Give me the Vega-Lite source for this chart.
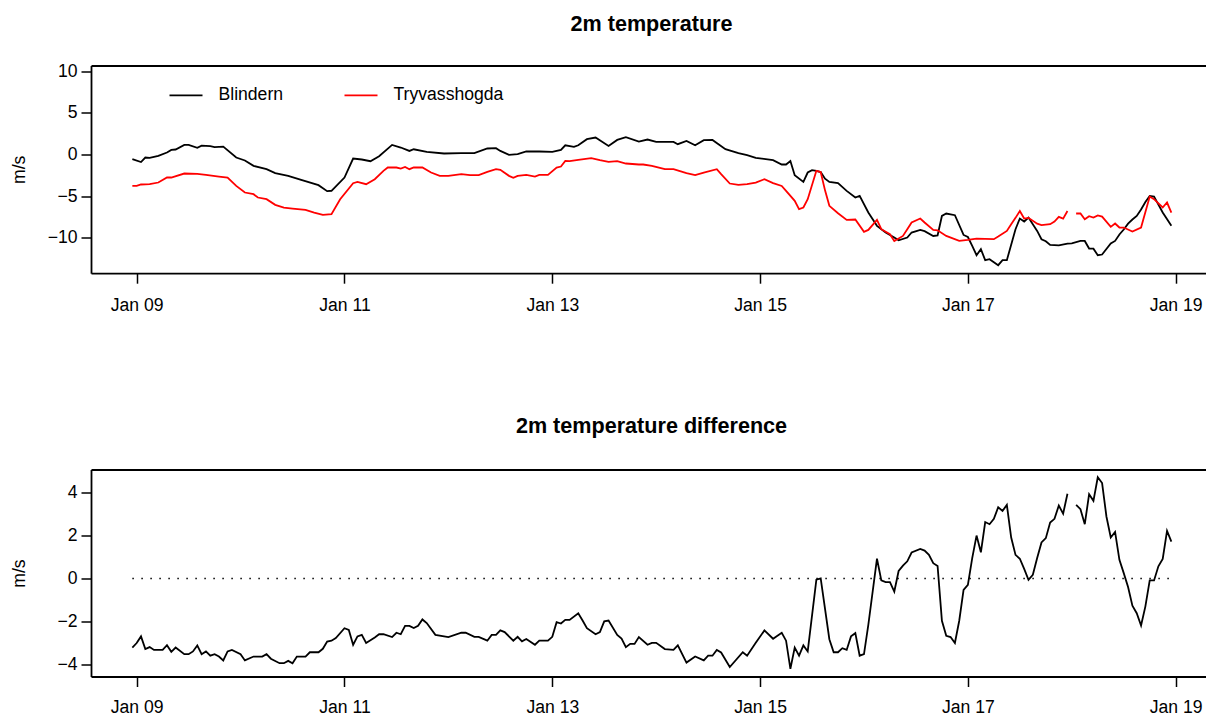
{
"$schema":"https://vega.github.io/schema/vega-lite/v6.json",
"background":"white",
"padding":{"left":10,"top":13.5,"right":0,"bottom":0},
"autosize":{"type":"pad"},
"spacing":196,
"bounds":"flush",
"config":{
 "font":"Liberation Sans",
 "view":{"stroke":null},
 "axis":{"domainColor":"black","domainWidth":1.8,"tickColor":"black","tickWidth":1.5,"tickSize":10,"labelColor":"black","labelFont":"Liberation Sans","labelFontSize":17.6,"titleFont":"Liberation Sans","titleFontSize":17.6,"titleFontWeight":"normal","titleColor":"black","grid":false}
},
"datasets":{
"bl":[
{"t":"2024-01-08T23:00","v":-0.56},{"t":"2024-01-09T01:00","v":-0.9},{"t":"2024-01-09T02:00","v":-0.36},{"t":"2024-01-09T03:00","v":-0.4},{"t":"2024-01-09T05:00","v":-0.17},{"t":"2024-01-09T07:00","v":0.24},{"t":"2024-01-09T08:00","v":0.55},{"t":"2024-01-09T09:00","v":0.6},{"t":"2024-01-09T11:00","v":1.15},{"t":"2024-01-09T12:00","v":1.15},{"t":"2024-01-09T14:00","v":0.8},{"t":"2024-01-09T15:00","v":1.07},{"t":"2024-01-09T17:00","v":1.0},{"t":"2024-01-09T18:00","v":0.88},{"t":"2024-01-09T20:00","v":0.95},{"t":"2024-01-09T23:00","v":-0.36},
{"t":"2024-01-10T01:00","v":-0.72},{"t":"2024-01-10T03:00","v":-1.36},{"t":"2024-01-10T06:00","v":-1.76},{"t":"2024-01-10T08:00","v":-2.24},{"t":"2024-01-10T11:00","v":-2.56},{"t":"2024-01-10T14:00","v":-3.04},{"t":"2024-01-10T18:00","v":-3.68},{"t":"2024-01-10T20:00","v":-4.4},{"t":"2024-01-10T21:00","v":-4.35},
{"t":"2024-01-11T00:00","v":-2.76},{"t":"2024-01-11T02:00","v":-0.48},{"t":"2024-01-11T04:00","v":-0.6},{"t":"2024-01-11T06:00","v":-0.8},{"t":"2024-01-11T08:00","v":-0.2},{"t":"2024-01-11T11:00","v":1.15},{"t":"2024-01-11T13:00","v":0.84},{"t":"2024-01-11T15:00","v":0.43},{"t":"2024-01-11T16:00","v":0.63},{"t":"2024-01-11T19:00","v":0.31},{"t":"2024-01-11T23:00","v":0.12},
{"t":"2024-01-12T03:00","v":0.16},{"t":"2024-01-12T06:00","v":0.16},{"t":"2024-01-12T09:00","v":0.72},{"t":"2024-01-12T11:00","v":0.76},{"t":"2024-01-12T12:00","v":0.43},{"t":"2024-01-12T14:00","v":-0.04},{"t":"2024-01-12T16:00","v":0.04},{"t":"2024-01-12T18:00","v":0.36},{"t":"2024-01-12T21:00","v":0.36},
{"t":"2024-01-13T00:00","v":0.32},{"t":"2024-01-13T02:00","v":0.55},{"t":"2024-01-13T03:00","v":1.11},{"t":"2024-01-13T05:00","v":0.91},{"t":"2024-01-13T06:00","v":1.11},{"t":"2024-01-13T08:00","v":1.84},{"t":"2024-01-13T10:00","v":2.04},{"t":"2024-01-13T13:00","v":1.03},{"t":"2024-01-13T15:00","v":1.75},{"t":"2024-01-13T17:00","v":2.08},{"t":"2024-01-13T20:00","v":1.55},{"t":"2024-01-13T22:00","v":1.8},
{"t":"2024-01-14T00:00","v":1.51},{"t":"2024-01-14T04:00","v":1.51},{"t":"2024-01-14T05:00","v":1.24},{"t":"2024-01-14T07:00","v":1.63},{"t":"2024-01-14T09:00","v":1.11},{"t":"2024-01-14T11:00","v":1.72},{"t":"2024-01-14T13:00","v":1.75},{"t":"2024-01-14T16:00","v":0.64},{"t":"2024-01-14T19:00","v":0.16},{"t":"2024-01-14T21:00","v":-0.08},{"t":"2024-01-14T23:00","v":-0.4},
{"t":"2024-01-15T03:00","v":-0.68},{"t":"2024-01-15T05:00","v":-1.2},{"t":"2024-01-15T06:00","v":-1.2},{"t":"2024-01-15T07:00","v":-0.77},{"t":"2024-01-15T08:00","v":-2.48},{"t":"2024-01-15T10:00","v":-3.28},{"t":"2024-01-15T11:00","v":-2.16},{"t":"2024-01-15T12:00","v":-1.88},{"t":"2024-01-15T13:00","v":-1.95},{"t":"2024-01-15T14:00","v":-2.1},{"t":"2024-01-15T15:00","v":-2.9},{"t":"2024-01-15T16:00","v":-3.28},{"t":"2024-01-15T18:00","v":-3.44},{"t":"2024-01-15T20:00","v":-4.36},{"t":"2024-01-15T22:00","v":-5.16},{"t":"2024-01-15T23:00","v":-4.96},
{"t":"2024-01-16T01:00","v":-6.96},{"t":"2024-01-16T03:00","v":-8.56},{"t":"2024-01-16T05:00","v":-9.36},{"t":"2024-01-16T07:00","v":-9.96},{"t":"2024-01-16T08:00","v":-10.3},{"t":"2024-01-16T10:00","v":-9.96},{"t":"2024-01-16T11:00","v":-9.36},{"t":"2024-01-16T13:00","v":-9.05},{"t":"2024-01-16T14:00","v":-9.2},{"t":"2024-01-16T16:00","v":-9.77},{"t":"2024-01-16T17:00","v":-9.7},{"t":"2024-01-16T18:00","v":-7.37},{"t":"2024-01-16T19:00","v":-7.08},{"t":"2024-01-16T21:00","v":-7.28},{"t":"2024-01-16T23:00","v":-9.65},
{"t":"2024-01-17T00:00","v":-9.9},{"t":"2024-01-17T01:00","v":-10.97},{"t":"2024-01-17T02:00","v":-12.08},{"t":"2024-01-17T03:00","v":-11.36},{"t":"2024-01-17T04:00","v":-12.68},{"t":"2024-01-17T05:00","v":-12.56},{"t":"2024-01-17T07:00","v":-13.28},{"t":"2024-01-17T08:00","v":-12.68},{"t":"2024-01-17T09:00","v":-12.68},{"t":"2024-01-17T11:00","v":-8.96},{"t":"2024-01-17T12:00","v":-7.68},{"t":"2024-01-17T13:00","v":-8.04},{"t":"2024-01-17T14:00","v":-7.56},{"t":"2024-01-17T16:00","v":-9.17},{"t":"2024-01-17T17:00","v":-10.16},{"t":"2024-01-17T18:00","v":-10.4},{"t":"2024-01-17T19:00","v":-10.85},{"t":"2024-01-17T21:00","v":-10.9},{"t":"2024-01-17T23:00","v":-10.68},
{"t":"2024-01-18T00:00","v":-10.65},{"t":"2024-01-18T02:00","v":-10.37},{"t":"2024-01-18T03:00","v":-10.37},{"t":"2024-01-18T04:00","v":-11.28},{"t":"2024-01-18T05:00","v":-11.3},{"t":"2024-01-18T06:00","v":-12.08},{"t":"2024-01-18T07:00","v":-12.0},{"t":"2024-01-18T09:00","v":-10.68},{"t":"2024-01-18T10:00","v":-10.37},{"t":"2024-01-18T11:00","v":-9.6},{"t":"2024-01-18T12:00","v":-9.0},{"t":"2024-01-18T13:00","v":-8.3},{"t":"2024-01-18T14:00","v":-7.8},{"t":"2024-01-18T15:00","v":-7.37},{"t":"2024-01-18T16:00","v":-6.6},{"t":"2024-01-18T17:00","v":-5.7},{"t":"2024-01-18T18:00","v":-4.97},{"t":"2024-01-18T19:00","v":-5.05},{"t":"2024-01-18T21:00","v":-6.96},{"t":"2024-01-18T23:00","v":-8.56}
],
"tr":[
{"t":"2024-01-08T23:00","v":-3.77},{"t":"2024-01-09T00:00","v":-3.77},{"t":"2024-01-09T01:00","v":-3.6},{"t":"2024-01-09T03:00","v":-3.56},{"t":"2024-01-09T05:00","v":-3.36},{"t":"2024-01-09T07:00","v":-2.76},{"t":"2024-01-09T08:00","v":-2.76},{"t":"2024-01-09T11:00","v":-2.28},{"t":"2024-01-09T14:00","v":-2.32},{"t":"2024-01-09T16:00","v":-2.44},{"t":"2024-01-09T19:00","v":-2.64},{"t":"2024-01-09T21:00","v":-2.76},{"t":"2024-01-09T23:00","v":-3.77},
{"t":"2024-01-10T01:00","v":-4.56},{"t":"2024-01-10T03:00","v":-4.76},{"t":"2024-01-10T04:00","v":-5.16},{"t":"2024-01-10T06:00","v":-5.36},{"t":"2024-01-10T08:00","v":-6.04},{"t":"2024-01-10T10:00","v":-6.36},{"t":"2024-01-10T12:00","v":-6.48},{"t":"2024-01-10T15:00","v":-6.64},{"t":"2024-01-10T17:00","v":-6.96},{"t":"2024-01-10T19:00","v":-7.24},{"t":"2024-01-10T21:00","v":-7.16},{"t":"2024-01-10T23:00","v":-5.36},
{"t":"2024-01-11T02:00","v":-3.44},{"t":"2024-01-11T03:00","v":-3.28},{"t":"2024-01-11T05:00","v":-3.56},{"t":"2024-01-11T07:00","v":-2.96},{"t":"2024-01-11T09:00","v":-1.96},{"t":"2024-01-11T10:00","v":-1.56},{"t":"2024-01-11T12:00","v":-1.56},{"t":"2024-01-11T13:00","v":-1.68},{"t":"2024-01-11T14:00","v":-1.5},{"t":"2024-01-11T15:00","v":-1.76},{"t":"2024-01-11T16:00","v":-1.56},{"t":"2024-01-11T18:00","v":-1.56},{"t":"2024-01-11T20:00","v":-2.16},{"t":"2024-01-11T22:00","v":-2.56},
{"t":"2024-01-12T00:00","v":-2.56},{"t":"2024-01-12T03:00","v":-2.36},{"t":"2024-01-12T05:00","v":-2.48},{"t":"2024-01-12T07:00","v":-2.48},{"t":"2024-01-12T09:00","v":-2.08},{"t":"2024-01-12T11:00","v":-1.76},{"t":"2024-01-12T12:00","v":-1.84},{"t":"2024-01-12T14:00","v":-2.56},{"t":"2024-01-12T15:00","v":-2.8},{"t":"2024-01-12T16:00","v":-2.56},{"t":"2024-01-12T18:00","v":-2.44},{"t":"2024-01-12T20:00","v":-2.64},{"t":"2024-01-12T21:00","v":-2.44},{"t":"2024-01-12T23:00","v":-2.44},
{"t":"2024-01-13T01:00","v":-1.56},{"t":"2024-01-13T02:00","v":-1.44},{"t":"2024-01-13T03:00","v":-0.77},{"t":"2024-01-13T04:00","v":-0.8},{"t":"2024-01-13T06:00","v":-0.64},{"t":"2024-01-13T09:00","v":-0.44},{"t":"2024-01-13T11:00","v":-0.68},{"t":"2024-01-13T13:00","v":-0.88},{"t":"2024-01-13T15:00","v":-0.8},{"t":"2024-01-13T17:00","v":-1.08},{"t":"2024-01-13T20:00","v":-1.2},{"t":"2024-01-13T21:00","v":-1.2},{"t":"2024-01-13T23:00","v":-1.36},
{"t":"2024-01-14T02:00","v":-1.76},{"t":"2024-01-14T04:00","v":-1.76},{"t":"2024-01-14T07:00","v":-2.24},{"t":"2024-01-14T09:00","v":-2.48},{"t":"2024-01-14T11:00","v":-2.16},{"t":"2024-01-14T14:00","v":-1.76},{"t":"2024-01-14T15:00","v":-2.36},{"t":"2024-01-14T17:00","v":-3.48},{"t":"2024-01-14T19:00","v":-3.64},{"t":"2024-01-14T21:00","v":-3.56},{"t":"2024-01-14T23:00","v":-3.36},
{"t":"2024-01-15T01:00","v":-2.96},{"t":"2024-01-15T03:00","v":-3.44},{"t":"2024-01-15T05:00","v":-3.77},{"t":"2024-01-15T06:00","v":-4.36},{"t":"2024-01-15T08:00","v":-5.56},{"t":"2024-01-15T09:00","v":-6.56},{"t":"2024-01-15T10:00","v":-6.36},{"t":"2024-01-15T11:00","v":-5.36},{"t":"2024-01-15T13:00","v":-1.96},{"t":"2024-01-15T14:00","v":-2.1},{"t":"2024-01-15T15:00","v":-4.3},{"t":"2024-01-15T16:00","v":-6.16},{"t":"2024-01-15T18:00","v":-7.04},{"t":"2024-01-15T20:00","v":-7.84},{"t":"2024-01-15T22:00","v":-7.8},
{"t":"2024-01-16T00:00","v":-9.28},{"t":"2024-01-16T01:00","v":-9.05},{"t":"2024-01-16T03:00","v":-7.84},{"t":"2024-01-16T04:00","v":-8.96},{"t":"2024-01-16T06:00","v":-9.56},{"t":"2024-01-16T07:00","v":-10.37},{"t":"2024-01-16T09:00","v":-9.77},{"t":"2024-01-16T10:00","v":-8.96},{"t":"2024-01-16T11:00","v":-8.16},{"t":"2024-01-16T13:00","v":-7.68},{"t":"2024-01-16T14:00","v":-8.16},{"t":"2024-01-16T16:00","v":-9.05},{"t":"2024-01-16T17:00","v":-9.1},{"t":"2024-01-16T19:00","v":-9.77},{"t":"2024-01-16T22:00","v":-10.37},
{"t":"2024-01-17T00:00","v":-10.25},{"t":"2024-01-17T02:00","v":-10.08},{"t":"2024-01-17T06:00","v":-10.16},{"t":"2024-01-17T07:00","v":-9.85},{"t":"2024-01-17T09:00","v":-9.17},{"t":"2024-01-17T10:00","v":-8.36},{"t":"2024-01-17T11:00","v":-7.6},{"t":"2024-01-17T12:00","v":-6.77},{"t":"2024-01-17T13:00","v":-7.68},{"t":"2024-01-17T14:00","v":-7.6},{"t":"2024-01-17T16:00","v":-8.3},{"t":"2024-01-17T17:00","v":-8.48},{"t":"2024-01-17T19:00","v":-8.36},{"t":"2024-01-17T20:00","v":-8.04},{"t":"2024-01-17T21:00","v":-7.48},{"t":"2024-01-17T22:00","v":-7.7},{"t":"2024-01-17T23:00","v":-6.77},
{"t":"2024-01-18T00:00","v":null},{"t":"2024-01-18T01:00","v":-7.08},{"t":"2024-01-18T02:00","v":-7.08},{"t":"2024-01-18T03:00","v":-7.77},{"t":"2024-01-18T04:00","v":-7.4},{"t":"2024-01-18T05:00","v":-7.56},{"t":"2024-01-18T06:00","v":-7.3},{"t":"2024-01-18T07:00","v":-7.45},{"t":"2024-01-18T09:00","v":-8.68},{"t":"2024-01-18T10:00","v":-8.28},{"t":"2024-01-18T11:00","v":-8.76},{"t":"2024-01-18T12:00","v":-8.76},{"t":"2024-01-18T14:00","v":-9.24},{"t":"2024-01-18T16:00","v":-8.76},{"t":"2024-01-18T18:00","v":-5.04},{"t":"2024-01-18T19:00","v":-5.36},{"t":"2024-01-18T21:00","v":-6.36},{"t":"2024-01-18T22:00","v":-5.76},{"t":"2024-01-18T23:00","v":-6.96}
],
"df":[
{"t":"2024-01-08T23:00","d":-3.22},{"t":"2024-01-09T00:00","d":-3.01},{"t":"2024-01-09T01:00","d":-2.7},{"t":"2024-01-09T02:00","d":-3.29},{"t":"2024-01-09T03:00","d":-3.2},{"t":"2024-01-09T04:00","d":-3.33},{"t":"2024-01-09T06:00","d":-3.33},{"t":"2024-01-09T07:00","d":-3.11},{"t":"2024-01-09T08:00","d":-3.42},{"t":"2024-01-09T09:00","d":-3.22},{"t":"2024-01-09T11:00","d":-3.53},{"t":"2024-01-09T12:00","d":-3.53},{"t":"2024-01-09T13:00","d":-3.4},{"t":"2024-01-09T14:00","d":-3.12},{"t":"2024-01-09T15:00","d":-3.53},{"t":"2024-01-09T16:00","d":-3.4},{"t":"2024-01-09T17:00","d":-3.6},{"t":"2024-01-09T18:00","d":-3.53},{"t":"2024-01-09T19:00","d":-3.64},{"t":"2024-01-09T20:00","d":-3.82},{"t":"2024-01-09T21:00","d":-3.4},{"t":"2024-01-09T22:00","d":-3.33},
{"t":"2024-01-10T00:00","d":-3.53},{"t":"2024-01-10T01:00","d":-3.82},{"t":"2024-01-10T03:00","d":-3.64},{"t":"2024-01-10T05:00","d":-3.64},{"t":"2024-01-10T06:00","d":-3.53},{"t":"2024-01-10T07:00","d":-3.74},{"t":"2024-01-10T09:00","d":-3.95},{"t":"2024-01-10T10:00","d":-3.95},{"t":"2024-01-10T11:00","d":-3.84},{"t":"2024-01-10T12:00","d":-3.95},{"t":"2024-01-10T13:00","d":-3.64},{"t":"2024-01-10T15:00","d":-3.64},{"t":"2024-01-10T16:00","d":-3.44},{"t":"2024-01-10T18:00","d":-3.44},{"t":"2024-01-10T19:00","d":-3.28},{"t":"2024-01-10T20:00","d":-2.94},{"t":"2024-01-10T21:00","d":-2.9},{"t":"2024-01-10T22:00","d":-2.78},
{"t":"2024-01-11T00:00","d":-2.32},{"t":"2024-01-11T01:00","d":-2.4},{"t":"2024-01-11T02:00","d":-3.09},{"t":"2024-01-11T03:00","d":-2.7},{"t":"2024-01-11T04:00","d":-2.63},{"t":"2024-01-11T05:00","d":-3.01},{"t":"2024-01-11T07:00","d":-2.75},{"t":"2024-01-11T08:00","d":-2.6},{"t":"2024-01-11T09:00","d":-2.6},{"t":"2024-01-11T11:00","d":-2.73},{"t":"2024-01-11T12:00","d":-2.53},{"t":"2024-01-11T13:00","d":-2.6},{"t":"2024-01-11T14:00","d":-2.21},{"t":"2024-01-11T15:00","d":-2.21},{"t":"2024-01-11T16:00","d":-2.31},{"t":"2024-01-11T17:00","d":-2.21},{"t":"2024-01-11T18:00","d":-1.91},{"t":"2024-01-11T19:00","d":-2.08},{"t":"2024-01-11T21:00","d":-2.63},
{"t":"2024-01-12T00:00","d":-2.73},{"t":"2024-01-12T03:00","d":-2.53},{"t":"2024-01-12T04:00","d":-2.53},{"t":"2024-01-12T06:00","d":-2.72},{"t":"2024-01-12T07:00","d":-2.72},{"t":"2024-01-12T09:00","d":-2.9},{"t":"2024-01-12T10:00","d":-2.63},{"t":"2024-01-12T11:00","d":-2.63},{"t":"2024-01-12T12:00","d":-2.42},{"t":"2024-01-12T13:00","d":-2.5},{"t":"2024-01-12T15:00","d":-2.9},{"t":"2024-01-12T16:00","d":-2.72},{"t":"2024-01-12T17:00","d":-2.93},{"t":"2024-01-12T18:00","d":-2.82},{"t":"2024-01-12T20:00","d":-3.09},{"t":"2024-01-12T21:00","d":-2.9},{"t":"2024-01-12T23:00","d":-2.9},
{"t":"2024-01-13T00:00","d":-2.72},{"t":"2024-01-13T01:00","d":-2.04},{"t":"2024-01-13T02:00","d":-2.1},{"t":"2024-01-13T03:00","d":-1.93},{"t":"2024-01-13T04:00","d":-1.93},{"t":"2024-01-13T06:00","d":-1.62},{"t":"2024-01-13T07:00","d":-1.96},{"t":"2024-01-13T08:00","d":-2.32},{"t":"2024-01-13T10:00","d":-2.6},{"t":"2024-01-13T11:00","d":-2.5},{"t":"2024-01-13T12:00","d":-2.0},{"t":"2024-01-13T13:00","d":-1.96},{"t":"2024-01-13T15:00","d":-2.63},{"t":"2024-01-13T16:00","d":-2.8},{"t":"2024-01-13T17:00","d":-3.2},{"t":"2024-01-13T18:00","d":-3.05},{"t":"2024-01-13T19:00","d":-3.05},{"t":"2024-01-13T20:00","d":-2.73},{"t":"2024-01-13T22:00","d":-3.09},{"t":"2024-01-13T23:00","d":-3.0},
{"t":"2024-01-14T00:00","d":-3.0},{"t":"2024-01-14T02:00","d":-3.29},{"t":"2024-01-14T04:00","d":-3.33},{"t":"2024-01-14T05:00","d":-3.12},{"t":"2024-01-14T07:00","d":-3.92},{"t":"2024-01-14T09:00","d":-3.64},{"t":"2024-01-14T11:00","d":-3.82},{"t":"2024-01-14T12:00","d":-3.6},{"t":"2024-01-14T13:00","d":-3.6},{"t":"2024-01-14T14:00","d":-3.33},{"t":"2024-01-14T15:00","d":-3.45},{"t":"2024-01-14T17:00","d":-4.13},{"t":"2024-01-14T20:00","d":-3.44},{"t":"2024-01-14T21:00","d":-3.6},{"t":"2024-01-14T23:00","d":-3.0},
{"t":"2024-01-15T01:00","d":-2.42},{"t":"2024-01-15T03:00","d":-2.81},{"t":"2024-01-15T05:00","d":-2.53},{"t":"2024-01-15T06:00","d":-2.9},{"t":"2024-01-15T07:00","d":-4.21},{"t":"2024-01-15T08:00","d":-3.22},{"t":"2024-01-15T09:00","d":-3.6},{"t":"2024-01-15T10:00","d":-3.12},{"t":"2024-01-15T11:00","d":-3.4},{"t":"2024-01-15T13:00","d":-0.06},{"t":"2024-01-15T14:00","d":0.0},{"t":"2024-01-15T16:00","d":-2.83},{"t":"2024-01-15T17:00","d":-3.44},{"t":"2024-01-15T18:00","d":-3.44},{"t":"2024-01-15T19:00","d":-3.25},{"t":"2024-01-15T20:00","d":-3.33},{"t":"2024-01-15T21:00","d":-2.7},{"t":"2024-01-15T22:00","d":-2.55},{"t":"2024-01-15T23:00","d":-3.6},
{"t":"2024-01-16T00:00","d":-3.53},{"t":"2024-01-16T01:00","d":-2.16},{"t":"2024-01-16T03:00","d":0.92},{"t":"2024-01-16T04:00","d":-0.09},{"t":"2024-01-16T05:00","d":-0.17},{"t":"2024-01-16T06:00","d":-0.17},{"t":"2024-01-16T07:00","d":-0.61},{"t":"2024-01-16T08:00","d":0.35},{"t":"2024-01-16T09:00","d":0.6},{"t":"2024-01-16T10:00","d":0.8},{"t":"2024-01-16T11:00","d":1.21},{"t":"2024-01-16T13:00","d":1.38},{"t":"2024-01-16T14:00","d":1.3},{"t":"2024-01-16T15:00","d":1.1},{"t":"2024-01-16T16:00","d":0.71},{"t":"2024-01-16T17:00","d":0.58},{"t":"2024-01-16T18:00","d":-1.97},{"t":"2024-01-16T19:00","d":-2.67},{"t":"2024-01-16T20:00","d":-2.73},{"t":"2024-01-16T21:00","d":-3.01},{"t":"2024-01-16T22:00","d":-1.97},{"t":"2024-01-16T23:00","d":-0.53},
{"t":"2024-01-17T00:00","d":-0.3},{"t":"2024-01-17T01:00","d":0.95},{"t":"2024-01-17T02:00","d":2.0},{"t":"2024-01-17T03:00","d":1.22},{"t":"2024-01-17T04:00","d":2.63},{"t":"2024-01-17T05:00","d":2.53},{"t":"2024-01-17T06:00","d":2.78},{"t":"2024-01-17T07:00","d":3.32},{"t":"2024-01-17T08:00","d":3.15},{"t":"2024-01-17T09:00","d":3.43},{"t":"2024-01-17T10:00","d":1.91},{"t":"2024-01-17T11:00","d":1.1},{"t":"2024-01-17T12:00","d":0.92},{"t":"2024-01-17T13:00","d":0.45},{"t":"2024-01-17T14:00","d":-0.06},{"t":"2024-01-17T15:00","d":0.17},{"t":"2024-01-17T16:00","d":0.95},{"t":"2024-01-17T17:00","d":1.68},{"t":"2024-01-17T18:00","d":1.88},{"t":"2024-01-17T19:00","d":2.61},{"t":"2024-01-17T20:00","d":2.78},{"t":"2024-01-17T21:00","d":3.4},{"t":"2024-01-17T22:00","d":3.02},{"t":"2024-01-17T23:00","d":3.95},
{"t":"2024-01-18T00:00","d":null},{"t":"2024-01-18T01:00","d":3.43},{"t":"2024-01-18T02:00","d":3.23},{"t":"2024-01-18T03:00","d":2.53},{"t":"2024-01-18T04:00","d":3.93},{"t":"2024-01-18T05:00","d":3.62},{"t":"2024-01-18T06:00","d":4.72},{"t":"2024-01-18T07:00","d":4.45},{"t":"2024-01-18T08:00","d":2.89},{"t":"2024-01-18T09:00","d":1.91},{"t":"2024-01-18T10:00","d":2.17},{"t":"2024-01-18T11:00","d":0.87},{"t":"2024-01-18T12:00","d":0.25},{"t":"2024-01-18T13:00","d":-0.4},{"t":"2024-01-18T14:00","d":-1.27},{"t":"2024-01-18T15:00","d":-1.62},{"t":"2024-01-18T16:00","d":-2.19},{"t":"2024-01-18T17:00","d":-1.3},{"t":"2024-01-18T18:00","d":-0.09},{"t":"2024-01-18T19:00","d":-0.09},{"t":"2024-01-18T20:00","d":0.57},{"t":"2024-01-18T21:00","d":0.91},{"t":"2024-01-18T22:00","d":2.22},{"t":"2024-01-18T23:00","d":1.72}
]
},
"vconcat":[
{
 "width":1115,"height":207.7,
 "title":{"text":"2m temperature","fontSize":21.6,"fontWeight":"bold","anchor":"middle","dx":3,"offset":27,"color":"black","font":"Liberation Sans"},
 "resolve":{"axis":{"x":"independent"}},
 "layer":[
  {"data":{"name":"bl"},
   "mark":{"type":"line","strokeWidth":1.8,"invalid":"break-paths-filter-domains"},
   "encoding":{
    "x":{"field":"t","type":"temporal","scale":{"domain":[{"year":2024,"month":1,"date":8,"hours":13,"minutes":27},{"year":2024,"month":1,"date":19,"hours":7,"minutes":0}],"nice":false},
     "axis":{"orient":"bottom","title":null,"format":"%b %d","labelAngle":0,"labelPadding":13,"values":[{"year":2024,"month":1,"date":9},{"year":2024,"month":1,"date":11},{"year":2024,"month":1,"date":13},{"year":2024,"month":1,"date":15},{"year":2024,"month":1,"date":17},{"year":2024,"month":1,"date":19}]}},
    "y":{"field":"v","type":"quantitative","scale":{"domain":[-14.24,10.68],"nice":false,"zero":false},
     "axis":{"title":"m/s","values":[-10,-5,0,5,10],"labelPadding":4,"titleAngle":270,"titleBaseline":"alphabetic","titleAlign":"center","titleX":-66.2,"titleY":103.8}},
    "color":{"datum":"Blindern","type":"nominal","scale":{"domain":["Blindern","Tryvasshogda"],"range":["black","red"]},
     "legend":{"orient":"none","legendX":77.5,"legendY":12,"direction":"horizontal","title":null,"symbolType":"stroke","symbolSize":1089,"symbolStrokeWidth":1.8,"labelFontSize":17.6,"labelFont":"Liberation Sans","labelColor":"black","labelOffset":15,"columnPadding":57,"padding":0}}
   }},
  {"data":{"name":"tr"},
   "mark":{"type":"line","strokeWidth":1.8,"invalid":"break-paths-filter-domains"},
   "encoding":{
    "x":{"field":"t","type":"temporal","axis":{"orient":"top","title":null,"labels":false,"ticks":false,"domain":true}},
    "y":{"field":"v","type":"quantitative"},
    "color":{"datum":"Tryvasshogda","type":"nominal"}
   }}
 ]
},
{
 "width":1115,"height":207,
 "title":{"text":"2m temperature difference","fontSize":21.6,"fontWeight":"bold","anchor":"middle","dx":3,"offset":31.5,"color":"black","font":"Liberation Sans"},
 "resolve":{"axis":{"x":"independent"}},
 "layer":[
  {"data":{"name":"df"},
   "mark":{"type":"line","strokeWidth":1.8,"color":"black","invalid":"break-paths-filter-domains"},
   "encoding":{
    "x":{"field":"t","type":"temporal","scale":{"domain":[{"year":2024,"month":1,"date":8,"hours":13,"minutes":27},{"year":2024,"month":1,"date":19,"hours":7,"minutes":0}],"nice":false},
     "axis":{"orient":"bottom","title":null,"format":"%b %d","labelAngle":0,"labelPadding":12,"values":[{"year":2024,"month":1,"date":9},{"year":2024,"month":1,"date":11},{"year":2024,"month":1,"date":13},{"year":2024,"month":1,"date":15},{"year":2024,"month":1,"date":17},{"year":2024,"month":1,"date":19}]}},
    "y":{"field":"d","type":"quantitative","scale":{"domain":[-4.57,5.08],"nice":false,"zero":false},
     "axis":{"title":"m/s","values":[-4,-2,0,2,4],"labelPadding":4,"titleAngle":270,"titleBaseline":"alphabetic","titleAlign":"center","titleX":-66.2,"titleY":103.5}}
   }},
  {"data":{"name":"df"},
   "mark":{"type":"line","strokeWidth":1.5,"color":"black","strokeDash":[1.5,7.5]},
   "encoding":{
    "x":{"field":"t","type":"temporal","axis":{"orient":"top","title":null,"labels":false,"ticks":false,"domain":true}},
    "y":{"datum":0,"type":"quantitative","scale":{"domain":[-4.57,5.08],"nice":false,"zero":false}}
   }}
 ]
}
]
}
